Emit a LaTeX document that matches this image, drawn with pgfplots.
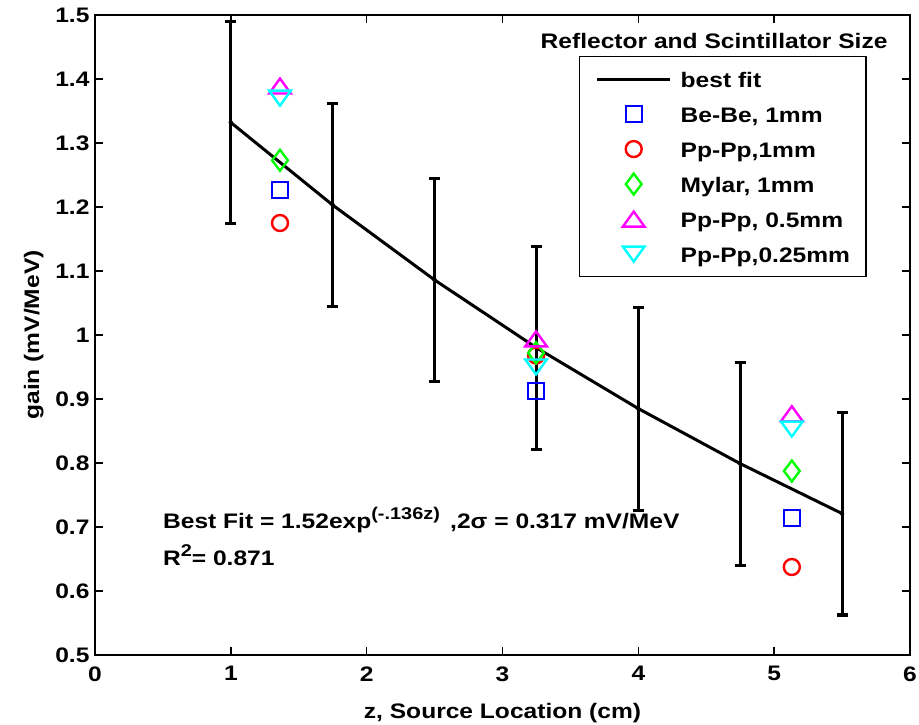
\documentclass[border=0pt]{standalone}
\usepackage{fontspec}
\setmainfont{Liberation Sans}[FakeStretch=1.17]
\usepackage{pgfplots}
\usepackage{pgfplotstable}
\pgfplotsset{compat=1.18}
\newcommand\lbl{\fontsize{21bp}{25bp}\selectfont\bfseries}
\newcommand\supt[1]{\raisebox{0.42em}{\fontsize{17bp}{19bp}\selectfont #1}}
\definecolor{mblue}{RGB}{0,0,255}
\definecolor{mred}{RGB}{255,0,0}
\definecolor{mgreen}{RGB}{0,255,0}
\definecolor{mmagenta}{RGB}{255,0,255}
\definecolor{mcyan}{RGB}{0,255,255}

% best-fit curve sampled at the error-bar positions, with +/- sigma (2sigma = 0.317)
\pgfplotstableread{
z     g      e
1.00  1.332  0.1585
1.75  1.203  0.1585
2.50  1.086  0.1585
3.25  0.980  0.1585
4.00  0.885  0.1585
4.75  0.799  0.1585
5.50  0.721  0.1585
}\fitdata

\begin{document}
\begin{tikzpicture}
\begin{axis}[
  width=815bp, height=640bp, scale only axis,
  xmin=0, xmax=6, ymin=0.5, ymax=1.5,
  xtick={0,1,2,3,4,5,6},
  ytick={0.5,0.6,0.7,0.8,0.9,1.0,1.1,1.2,1.3,1.4,1.5},
  tick align=inside, tick pos=both, major tick length=8bp,
  axis line style={line width=2.5bp},
  every tick/.style={black, line width=1.5bp},
  /pgf/number format/assume math mode=true,
  tick label style={font=\lbl},
  xticklabel style={yshift=-8bp},
  yticklabel style={xshift=-2bp},
  xlabel={z, Source Location (cm)},
  ylabel={gain (mV/MeV)},
  label style={font=\lbl},
  xlabel style={at={(axis description cs:0.5,0)}, anchor=base, yshift=-63bp},
  ylabel style={at={(axis description cs:-0.0687,0.5)}, anchor=base, rotate=0},
  legend cell align=left,
  legend image code/.code={\draw[mark repeat=2,mark phase=2,#1] plot coordinates {(0bp,0bp)(36.5bp,0bp)(73bp,0bp)};},
  legend style={at={(axis cs:3.564,1.436)}, anchor=north west, draw=black,
    line width=1.2bp, fill=white, inner xsep=16bp, inner ysep=10.5bp,
    row sep=11bp, column sep=9bp, font=\lbl,
    nodes={inner xsep=0pt, inner ysep=0pt, text height=20bp, text depth=4bp}},
]
% error bars on the fit
\addplot[black, only marks, mark=none, forget plot,
  error bars/.cd, y dir=both, y explicit,
  error bar style={line width=3bp, black},
  error mark options={line width=3bp, black, mark size=5.5bp, rotate=90}]
  table[x=z, y=g, y error=e] {\fitdata};
\addplot[black, line width=3bp, mark=none] table[x=z, y=g] {\fitdata};
\addlegendentry{best fit}

\addplot[mblue, only marks, mark=square, mark size=8bp, line width=2.4bp]
  coordinates {(1.362,1.227) (3.247,0.9125) (5.13,0.714)};
\addlegendentry{Be-Be, 1mm}
\addplot[mred, only marks, mark=o, mark size=8bp, line width=2.4bp]
  coordinates {(1.362,1.175) (3.247,0.968) (5.13,0.6375)};
\addlegendentry{Pp-Pp,1mm}
\addplot[mgreen, only marks, mark=diamond, mark size=10.5bp, line width=2.4bp]
  coordinates {(1.362,1.273) (3.247,0.972) (5.13,0.7875)};
\addlegendentry{Mylar, 1mm}
\addplot[mmagenta, only marks, mark=triangle, mark size=10bp, line width=2.4bp,
  mark options={xscale=1.25, yshift=-2.5bp}]
  coordinates {(1.362,1.389) (3.247,0.994) (5.13,0.877)};
\addlegendentry{Pp-Pp, 0.5mm}
\addplot[mcyan, only marks, mark=triangle, mark size=10bp, line width=2.4bp,
  mark options={rotate=180, xscale=1.25, yshift=-2.5bp}]
  coordinates {(1.362,1.370) (3.247,0.950) (5.13,0.853)};
\addlegendentry{Pp-Pp,0.25mm}

\node[font=\lbl, anchor=base] at (axis cs:4.558,1.448) {Reflector and Scintillator Size};
\node[font=\lbl, anchor=base west, inner sep=0pt] at (axis cs:0.50,0.6984)
  {Best Fit = 1.52exp\supt{(-.136z)}\, ,2σ = 0.317 mV/MeV};
\node[font=\lbl, anchor=base west, inner sep=0pt] at (axis cs:0.50,0.6406)
  {R\supt{2}= 0.871};
\end{axis}
\pgfresetboundingbox
\useasboundingbox (-95bp,-70bp) rectangle (824bp,655bp);
\end{tikzpicture}
\end{document}
